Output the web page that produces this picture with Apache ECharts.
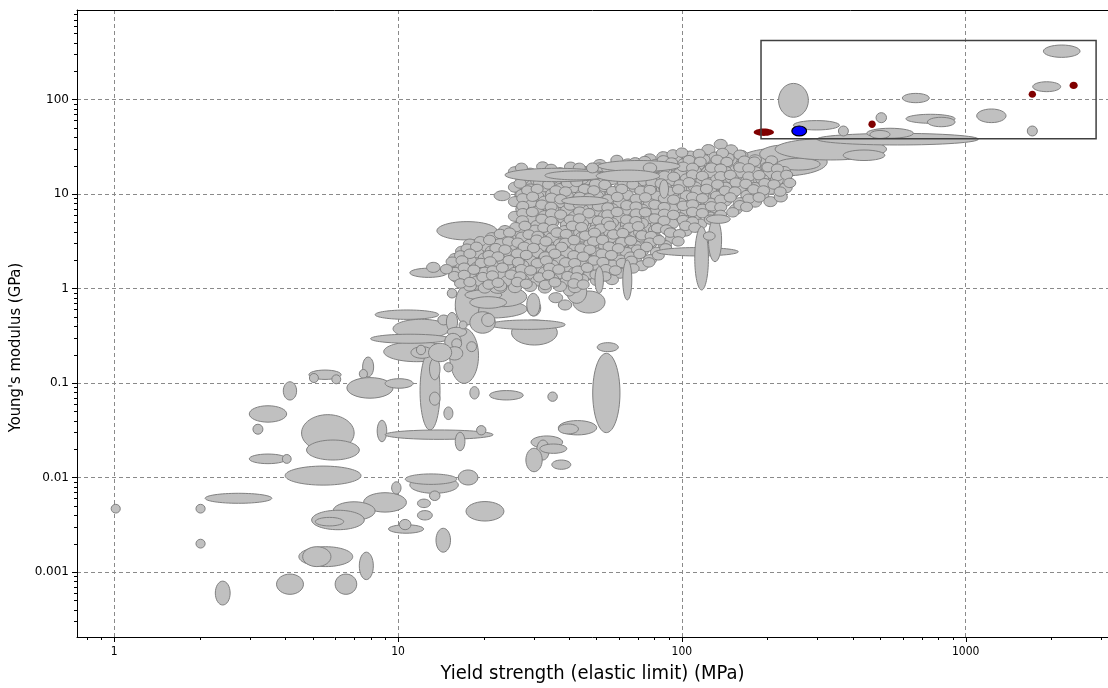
<!DOCTYPE html>
<html><head><meta charset="utf-8">
<script src="https://cdn.jsdelivr.net/npm/echarts@6/dist/echarts.min.js"></script>
<style>html,body{margin:0;padding:0;background:#fff}#c{width:1108px;height:688px}</style>
</head><body><div id="c"></div>
<script>
// ---- tick values / labels ----
const xTickValues = [1, 10, 100, 1000];
const xTickLabels = ['1', '10', '100', '1000'];
const xMinorTicks = [0.8, 0.9, 2, 3, 4, 5, 6, 7, 8, 9, 20, 30, 40, 50, 60, 70, 80, 90,
  200, 300, 400, 500, 600, 700, 800, 900, 2000, 3000];
const yTickValues = [0.001, 0.01, 0.1, 1, 10, 100];
const yTickLabels = ['0.001', '0.01', '0.1', '1', '10', '100'];
const yMinorTicks = [0.0003, 0.0004, 0.0005, 0.0006, 0.0007, 0.0008, 0.0009,
  0.002, 0.003, 0.004, 0.005, 0.006, 0.007, 0.008, 0.009,
  0.02, 0.03, 0.04, 0.05, 0.06, 0.07, 0.08, 0.09,
  0.2, 0.3, 0.4, 0.5, 0.6, 0.7, 0.8, 0.9,
  2, 3, 4, 5, 6, 7, 8, 9, 20, 30, 40, 50, 60, 70, 80, 90,
  200, 300, 400, 500, 600, 700, 800];

// ---- materials: [yield min, yield max (MPa), modulus min, modulus max (GPa)] ----
const backgroundRanges = [
  [25.8, 53.6, 5.71, 16.7], [22.9, 47.5, 1.86, 4.47], [43.8, 83.7, 2.26, 9.76],
  [74.1, 154, 6.0, 20.3], [116, 222, 10.2, 24.6], [15.9, 28, 1.09, 2.26], [34.3, 71.2, 1.23, 3.26],
  [156, 325, 15.5, 30.7], [188, 283, 21.3, 33], [216, 307, 17.9, 23.9],
  [213, 526, 22.9, 38.8], [370, 519, 22.6, 29.2], [37.2, 55.8, 15.2, 19.45]
];
const materialRanges = [
  [7.5, 8.2, 0.116, 0.188], [7.3, 7.8, 0.112, 0.139], [4.85, 6.3, 0.109, 0.137],
  [4.87, 5.24, 0.101, 0.126], [5.84, 6.28, 0.098, 0.122], [6.6, 9.6, 0.069, 0.114],
  [9.0, 11.3, 0.088, 0.111], [3.94, 4.39, 0.066, 0.103], [2.99, 4.05, 0.0385, 0.0574],
  [3.08, 3.34, 0.0287, 0.0366], [4.57, 7.0, 0.0189, 0.0462], [4.76, 7.3, 0.0153, 0.0249],
  [2.99, 4.05, 0.0140, 0.0177], [3.91, 4.20, 0.0141, 0.0175],
  [4.0, 7.4, 0.0083, 0.0132], [2.09, 3.59, 0.00533, 0.0068], [0.975, 1.05, 0.0042, 0.0052],
  [1.94, 2.09, 0.0042, 0.0052], [1.94, 2.09, 0.00179, 0.00222], [7.56, 10.7, 0.0043, 0.0069],
  [5.9, 8.3, 0.00353, 0.00553], [9.49, 10.24, 0.0067, 0.0090], [4.96, 7.6, 0.0028, 0.0045],
  [5.11, 6.43, 0.00307, 0.00378], [9.25, 12.3, 0.00257, 0.00316], [10.1, 11.1, 0.0028, 0.0036],
  [4.47, 6.92, 0.00114, 0.00185], [4.61, 5.8, 0.00114, 0.00185], [7.3, 8.18, 0.00083, 0.00162],
  [3.73, 4.64, 0.00058, 0.00095], [6.0, 7.15, 0.00058, 0.00095], [2.27, 2.56, 0.000447, 0.0008],
  [8.3, 13.9, 0.471, 0.592], [9.6, 15.2, 0.297, 0.472], [8.9, 15.2, 0.168, 0.274],
  [8.0, 15.2, 0.263, 0.328], [15.9, 28.5, 0.487, 0.756], [25.1, 36.4, 0.252, 0.464],
  [21, 38.8, 0.369, 0.464], [28.5, 31.8, 0.512, 0.756], [15.2, 19.2, 0.099, 0.379],
  [11.95, 14.05, 0.0318, 0.215], [8.44, 9.12, 0.0239, 0.0403], [9.0, 21.6, 0.0253, 0.0318],
  [12.9, 14.05, 0.108, 0.183], [12.9, 14.05, 0.0582, 0.080],
  [14.5, 15.6, 0.131, 0.164], [17.9, 19.3, 0.0677, 0.0916], [21, 27.6, 0.0661, 0.0831],
  [33.7, 36.4, 0.0639, 0.0803], [50.3, 59.7, 0.2145, 0.267], [48.5, 60.5, 0.0298, 0.206],
  [14.5, 15.6, 0.041, 0.0557], [18.9, 20.4, 0.0282, 0.0354], [15.9, 17.2, 0.0192, 0.0301],
  [36.7, 50.1, 0.0282, 0.040], [36.7, 43.2, 0.0289, 0.0368], [29.4, 38.0, 0.0203, 0.0275],
  [30.8, 34.1, 0.0153, 0.0249], [31.6, 39.3, 0.018, 0.0226], [28.2, 32.2, 0.0115, 0.0204],
  [34.8, 40.6, 0.0122, 0.0153], [11.0, 16.3, 0.0068, 0.0102], [10.6, 16.1, 0.00845, 0.0109],
  [16.3, 19.1, 0.00833, 0.012], [12.9, 14.05, 0.0057, 0.0072], [11.7, 13.0, 0.0048, 0.0059],
  [11.7, 13.2, 0.00355, 0.00446], [17.35, 23.6, 0.00346, 0.00556], [13.6, 15.3, 0.00162, 0.0029],
  [11.0, 14.9, 1.31, 1.64], [12.6, 14.05, 1.48, 1.89], [14.9, 16.1, 0.793, 0.998],
  [15.1, 22, 1.045, 1.92], [17.5, 19.2, 1.23, 1.77], [15.9, 22, 0.981, 1.25],
  [15.9, 19.3, 0.411, 1.09], [19.4, 28.4, 0.642, 1.045], [17.2, 23.2, 0.756, 0.964],
  [17.9, 24.1, 0.617, 0.819], [28.4, 31.6, 0.512, 0.887], [21.0, 24.1, 0.889, 1.135],
  [34, 38, 0.707, 0.903], [36.7, 40.9, 0.592, 0.756], [41.3, 53.6, 0.55, 0.94],
  [39.3, 46.2, 0.696, 1.23], [38.2, 42.1, 0.833, 1.116], [13.8, 15.2, 0.411, 0.524],
  [14.8, 16.2, 0.351, 0.557], [14.9, 17.45, 0.309, 0.389], [16.4, 17.5, 0.373, 0.453],
  [17.9, 22, 0.336, 0.568], [19.7, 21.9, 0.396, 0.544], [14.6, 16.7, 0.2235, 0.335],
  [15.45, 16.75, 0.231, 0.294], [17.45, 18.9, 0.2145, 0.2735], [14.8, 16.9, 0.175, 0.242],
  [11.1, 13.3, 0.1825, 0.242], [11.6, 12.5, 0.199, 0.251], [12.8, 15.45, 0.168, 0.263],
  [21.8, 24.8, 8.5, 10.8], [13.7, 22.3, 3.26, 5.1]
];
// densely packed small materials: [yield (MPa), modulus (GPa)]
const clusterPoints = [
  [124, 29.5], [137, 33.5], [149, 29.3], [131, 24.6],
  [77, 23.5], [86, 24.8], [95, 22.9], [107, 25.2], [119, 23.3], [145, 24.0], [162, 25.6], [181, 23.0],
  [51.4, 20.5], [57.7, 19.6], [64.5, 20.8], [72.3, 19.4], [81, 20.6], [90.8, 19.8], [102, 21.0],
  [114, 20.2], [128, 19.5], [143, 20.9], [160, 19.6], [180, 20.4], [200, 19.2],
  [25.8, 17.2], [29.2, 16.6], [32.9, 17.5], [37.2, 16.8], [42, 17.4], [47.5, 16.5], [53.6, 17.3],
  [60.5, 16.7], [68.4, 17.6], [77.2, 16.9], [87.2, 17.3], [98.5, 16.6], [111, 17.5], [126, 16.8],
  [142, 17.4], [160, 16.7], [181, 17.2], [204, 16.5], [229, 17.3],
  [27.4, 14.3], [30.9, 13.8], [34.9, 14.5], [39.3, 13.9], [44.5, 14.4], [50.2, 13.7], [56.7, 14.2],
  [64, 14.6], [72.3, 13.8], [81.6, 14.3], [92.3, 13.9], [104, 14.5], [118, 13.8], [133, 14.2],
  [150, 14.6], [170, 13.9], [192, 14.3], [216, 14.0],
  [25.8, 11.8], [29.2, 11.3], [32.9, 11.9], [37.2, 11.4], [42, 11.7], [47.5, 11.2], [53.6, 11.9],
  [60.5, 11.5], [68.4, 11.8], [77.2, 11.3], [87.2, 11.7], [98.5, 11.4], [111, 11.9], [126, 11.3],
  [142, 11.8], [160, 11.5], [181, 11.7], [204, 11.2], [232, 11.6],
  [27.4, 9.9], [30.9, 9.5], [34.9, 10.0], [39.3, 9.6], [44.5, 9.9], [50.2, 9.5], [56.7, 10.1],
  [64, 9.7], [72.3, 9.9], [81.6, 9.5], [92.3, 10.0], [104, 9.6], [118, 9.9], [133, 9.5],
  [150, 10.0], [170, 9.7], [192, 9.8],
  [25.8, 8.3], [29.2, 8.0], [32.9, 8.4], [37.2, 8.1], [42, 8.3], [47.5, 7.9], [53.6, 8.4],
  [60.5, 8.1], [68.4, 8.3], [77.2, 7.9], [87.2, 8.4], [98.5, 8.0], [111, 8.3], [126, 8.0],
  [142, 8.4], [160, 8.1], [181, 8.2], [205, 8.3], [223, 9.3],
  [27.4, 6.9], [30.9, 6.6], [34.9, 7.0], [39.3, 6.7], [44.5, 6.9], [50.2, 6.6], [56.7, 7.0],
  [64, 6.7], [72.3, 6.9], [81.6, 6.6], [92.3, 7.0], [104, 6.7], [118, 6.9], [133, 6.6], [155, 6.9],
  [25.8, 5.8], [29.2, 5.5], [32.9, 5.9], [37.2, 5.6], [42, 5.8], [47.5, 5.5], [53.6, 5.9],
  [60.5, 5.6], [68.4, 5.8], [77.2, 5.5], [87.2, 5.9], [98.5, 5.6], [111, 5.7], [126, 5.7], [136, 5.9],
  [27.4, 4.9], [30.9, 4.65], [34.9, 4.95], [39.3, 4.7], [44.5, 4.85], [50.2, 4.6], [56.7, 4.95],
  [64, 4.7], [72.3, 4.9], [81.6, 4.65], [92.3, 4.85], [104, 4.7], [116, 4.8],
  [23.8, 4.1], [26.9, 3.9], [30.4, 4.15], [34.3, 3.95], [38.7, 4.1], [43.8, 3.9], [49.4, 4.15],
  [55.8, 3.95], [63, 4.1], [71.2, 3.9], [80.4, 4.15], [90.8, 3.95], [103, 4.05],
  [21.4, 3.45], [24.2, 3.3], [27.4, 3.5], [30.9, 3.35], [34.9, 3.45], [39.3, 3.3], [44.5, 3.5],
  [50.2, 3.35], [56.7, 3.45], [64, 3.3], [72.3, 3.5], [81.6, 3.35], [92.3, 3.4],
  [17.9, 2.95], [20.2, 2.8], [22.9, 2.98], [25.8, 2.83], [29.2, 2.95], [32.9, 2.8], [37.2, 2.97],
  [42, 2.84], [47.5, 2.95], [53.6, 2.8], [60.5, 2.96], [68.4, 2.83], [77.2, 2.95], [87.2, 2.85],
  [16.8, 2.48], [19, 2.38], [21.4, 2.5], [24.2, 2.4], [27.4, 2.5], [30.9, 2.38], [34.9, 2.5],
  [39.3, 2.4], [44.5, 2.49], [50.2, 2.38], [56.7, 2.5], [64, 2.4], [72.3, 2.48], [81.6, 2.42],
  [15.9, 2.08], [17.9, 1.98], [20.2, 2.1], [22.9, 2.0], [25.8, 2.08], [29.2, 1.98], [32.9, 2.1],
  [37.2, 2.0], [42, 2.08], [47.5, 1.98], [53.6, 2.1], [60.5, 2.0], [68.4, 2.07], [77.2, 2.02],
  [16.8, 1.76], [19, 1.68], [21.4, 1.77], [24.2, 1.69], [27.4, 1.76], [30.9, 1.68], [34.9, 1.77],
  [39.3, 1.69], [44.5, 1.76], [50.2, 1.68], [56.7, 1.77], [64, 1.7], [72.3, 1.74],
  [15.9, 1.48], [17.9, 1.42], [20.2, 1.49], [22.9, 1.43], [25.8, 1.48], [29.2, 1.42], [32.9, 1.49],
  [37.2, 1.43], [42, 1.48], [47.5, 1.42], [53.6, 1.49], [60.5, 1.45],
  [16.8, 1.25], [19, 1.2], [21.4, 1.26], [24.2, 1.2], [27.4, 1.25], [30.9, 1.2], [34.9, 1.26],
  [39.3, 1.2], [44.5, 1.25], [50.2, 1.21], [56.7, 1.24],
  [17.9, 1.06], [20.2, 1.01], [22.9, 1.06], [25.8, 1.02], [29.2, 1.05], [32.9, 1.01], [37.2, 1.05], [42, 1.02]
];
const clusterPointsB = [
  [93, 26.2], [100, 27.4], [115, 26.5], [139, 27.1], [160, 26.0],
  [59, 22.9], [68.5, 21.6], [74, 22.3], [86, 22.7], [92, 21.5], [106, 22.8], [116, 21.9], [133, 23.0],
  [144, 21.8], [166, 22.5], [180, 22.0], [207, 22.6],
  [27.2, 18.9], [32.3, 19.5], [34.6, 18.4], [40.5, 19.4], [43.5, 18.9], [51, 19.0], [54.8, 18.5],
  [64, 19.4], [69, 18.6], [80.5, 19.1], [86.5, 18.5], [101, 19.4], [109, 18.9], [127, 19.0],
  [137, 18.5], [160, 19.1], [172, 18.7], [201, 19.2], [217, 18.5],
  [27.6, 15.6], [29.7, 16.1], [34.8, 15.2], [37.4, 15.9], [43.6, 15.5], [47, 16.1], [54.9, 15.4],
  [59.2, 15.9], [69, 15.3], [74.5, 16.1], [86.7, 15.6], [93.6, 15.2], [109, 16.0], [118, 15.5],
  [137, 15.4], [148, 15.9], [172, 15.3], [187, 15.8], [217, 15.5], [234, 15.9],
  [26.9, 12.9], [31.5, 13.3], [33.9, 12.6], [39.5, 13.0], [42.6, 13.4], [49.6, 12.8], [53.5, 12.5],
  [62.3, 13.1], [67.2, 12.6], [78.4, 13.3], [84.5, 12.9], [98.4, 12.6], [106, 13.3], [123, 12.9],
  [133.5, 12.6], [155, 13.2], [168, 12.8], [196, 13.0], [211, 12.6], [240, 13.1],
  [28.6, 10.9], [30.9, 11.3], [36, 10.9], [38.9, 10.6], [45.3, 11.3], [48.9, 10.9], [57, 10.7],
  [61.4, 11.3], [71.6, 10.8], [77.2, 11.0], [90, 10.6], [97.2, 11.2], [113, 10.9], [122, 11.3],
  [142, 10.8], [153.8, 10.6], [179, 11.2], [194, 10.9], [222, 10.6],
  [27.5, 9.0], [29.8, 9.35], [34.7, 9.1], [37.4, 8.8], [43.6, 9.3], [47, 9.0], [54.8, 8.8], [59.2, 9.3],
  [69, 8.9], [74.4, 9.2], [86.7, 9.0], [93.5, 8.7], [109, 9.3], [118, 9.0], [137, 8.7], [148, 9.2],
  [172, 8.9], [187, 9.2],
  [27.5, 7.45], [32.1, 7.7], [34.6, 7.3], [40.4, 7.55], [43.5, 7.75], [50.8, 7.4], [54.8, 7.2],
  [63.9, 7.6], [68.9, 7.35], [80.3, 7.7], [86.6, 7.25], [101, 7.5], [109, 7.75], [127, 7.4],
  [137, 7.25], [160, 7.6], [169, 7.3],
  [27.5, 6.25], [29.7, 6.45], [34.7, 6.2], [37.4, 6.05], [43.6, 6.5], [47, 6.25], [54.8, 6.05],
  [59.1, 6.45], [69, 6.2], [74.3, 6.4], [86.7, 6.15], [93.4, 6.0], [109, 6.45], [118, 6.25],
  [137, 6.0], [151, 6.4],
  [27.4, 5.25], [32.1, 5.45], [34.6, 5.15], [40.4, 5.35], [43.5, 5.5], [50.8, 5.2], [54.7, 5.05],
  [63.8, 5.35], [68.8, 5.15], [80.3, 5.5], [86.5, 5.2], [101, 5.3], [109, 5.1], [126, 5.35],
  [26, 4.45], [28, 4.6], [32.6, 4.4], [35.2, 4.25], [41.1, 4.6], [44.3, 4.45], [51.7, 4.3],
  [55.8, 4.6], [65.1, 4.4], [70.2, 4.55], [81.9, 4.35], [88.2, 4.2], [103, 4.6], [111, 4.4],
  [22.9, 3.78], [24.7, 3.9], [28.9, 3.72], [31.1, 3.6], [36.3, 3.9], [39.1, 3.76], [45.7, 3.62],
  [49.2, 3.88], [57.4, 3.73], [61.9, 3.85], [72.3, 3.65], [77.9, 3.58], [91, 3.9], [98, 3.75],
  [19.5, 3.16], [21, 3.26], [24.5, 3.13], [26.4, 3.05], [30.8, 3.28], [33.2, 3.15], [38.8, 3.04],
  [41.7, 3.25], [48.8, 3.14], [52.5, 3.27], [61.3, 3.09], [66, 3.2], [77.1, 3.05], [83.1, 3.24], [97, 3.15],
  [17.5, 2.64], [18.9, 2.76], [22.1, 2.67], [23.8, 2.58], [27.8, 2.76], [30, 2.68], [35, 2.58],
  [37.7, 2.75], [44.1, 2.65], [47.4, 2.57], [55.4, 2.77], [59.7, 2.66], [69.7, 2.58], [75.1, 2.75], [87.7, 2.66],
  [16.6, 2.24], [17.9, 2.33], [20.9, 2.25], [22.5, 2.18], [26.3, 2.34], [28.3, 2.26], [33, 2.18],
  [35.7, 2.33], [41.6, 2.24], [44.9, 2.17], [52.3, 2.33], [56.4, 2.25], [65.9, 2.17], [71, 2.32], [82.6, 2.24],
  [15.5, 1.92], [16.8, 1.98], [19.6, 1.86], [21.1, 1.93], [24.6, 1.99], [26.5, 1.9], [30.9, 1.85],
  [33.3, 1.97], [38.9, 1.89], [41.9, 1.85], [49, 1.98], [52.7, 1.9], [61.6, 1.86], [66.3, 1.96], [76.5, 1.89],
  [14.8, 1.6], [17.1, 1.66], [18.5, 1.58], [21.6, 1.55], [23.3, 1.66], [27.2, 1.6], [29.3, 1.55],
  [34.2, 1.65], [36.8, 1.59], [43, 1.54], [46.4, 1.66], [54, 1.6], [58.3, 1.55], [67.3, 1.63],
  [15.8, 1.35], [17.1, 1.39], [19.9, 1.32], [21.5, 1.37], [25, 1.4], [26.9, 1.34], [31.5, 1.31],
  [33.9, 1.39], [39.6, 1.35], [42.6, 1.31], [49.8, 1.4], [53.6, 1.34],
  [16.6, 1.13], [17.9, 1.17], [20.9, 1.1], [22.5, 1.15], [26.3, 1.17], [28.3, 1.12], [33, 1.09],
  [35.7, 1.16], [41.6, 1.13], [44.9, 1.1]
];
const overlayRanges = [
  [23.8, 55.1, 13.5, 18.7], [32.9, 55.1, 14.1, 17.5], [50.6, 98.5, 17.3, 22.6],
  [46.1, 50.8, 16.7, 21.3], [73.1, 81.5, 16.7, 21.3], [49.9, 83.5, 13.5, 17.9],
  [37.7, 55, 7.65, 9.39], [83.4, 89.7, 9.03, 14.1], [81.5, 158, 2.21, 2.71],
  [111, 124, 0.964, 4.52], [124, 138, 1.92, 5.53], [122, 148, 4.89, 6.0], [119, 131, 3.24, 3.98],
  [61.9, 66.6, 0.756, 2.0], [49.4, 52.9, 0.889, 1.70],
  [299, 1108, 33, 43.8], [448, 654, 38.9, 49.6], [460, 541, 38.7, 47],
  [247, 359, 47.6, 59.8], [219, 279, 64.8, 148], [356, 386, 41.1, 52.4], [483, 526, 56.8, 72.5],
  [598, 744, 92.5, 116], [616, 917, 56, 69.7], [733, 917, 51.5, 64.8], [1093, 1387, 56.9, 79.3],
  [1648, 1788, 41.1, 52.4], [1722, 2161, 121, 154], [1878, 2528, 279, 377]
];
const redRanges = [[179, 211, 41.1, 49.2], [454, 482, 49.9, 59.8], [1666, 1769, 104, 124], [2322, 2481, 129, 154]];
const blueRanges = [[244, 275, 41.1, 52.4]];
const selectionBox = [[190, 2880, 38.5, 420]];

// ---- rendering ----
const X_MIN = 0.739, X_MAX = 3172, Y_MIN = 0.000205, Y_MAX = 885;
const FILL = '#c0c0c0', EDGE = '#808080';

function rangeEllipse(fill, stroke, lw) {
  return function (params, api) {
    const a = api.coord([api.value(0), api.value(2)]);
    const b = api.coord([api.value(1), api.value(3)]);
    return {
      type: 'ellipse',
      shape: { cx: (a[0] + b[0]) / 2, cy: (a[1] + b[1]) / 2, rx: Math.abs(b[0] - a[0]) / 2, ry: Math.abs(b[1] - a[1]) / 2 },
      style: { fill: fill, stroke: stroke, lineWidth: lw }
    };
  };
}
function rangeSeries(data, fill, stroke, lw) {
  return { type: 'custom', coordinateSystem: 'cartesian2d', data: data, encode: { x: [0, 1], y: [2, 3] },
    renderItem: rangeEllipse(fill, stroke, lw), silent: true, animation: false };
}
function pointSeries(data, rx, ry) {
  return { type: 'custom', coordinateSystem: 'cartesian2d', data: data, silent: true, animation: false,
    renderItem: function (params, api) {
      const p = api.coord([api.value(0), api.value(1)]);
      return { type: 'ellipse', shape: { cx: p[0], cy: p[1], rx: rx, ry: ry }, style: { fill: FILL, stroke: EDGE, lineWidth: 1 } };
    } };
}
function labelFrom(values, labels) {
  return function (v) {
    for (let i = 0; i < values.length; i++) {
      if (Math.abs(Math.log10(v) - Math.log10(values[i])) < 1e-6) return labels[i];
    }
    return '';
  };
}
function xTickSeries(data, len) {
  return { type: 'custom', coordinateSystem: 'cartesian2d', data: data.map(v => [v]), silent: true, animation: false, clip: false,
    renderItem: function (params, api) {
      const p = api.coord([api.value(0), 1]);
      const x = Math.round(p[0]) + 0.5;
      const y0 = params.coordSys.y + params.coordSys.height;
      return { type: 'line', shape: { x1: x, y1: y0, x2: x, y2: y0 + len }, style: { stroke: '#000', lineWidth: 1 } };
    } };
}
function yTickSeries(data, len) {
  return { type: 'custom', coordinateSystem: 'cartesian2d', data: data.map(v => [1, v]), silent: true, animation: false, clip: false,
    renderItem: function (params, api) {
      const p = api.coord([1, api.value(1)]);
      const y = Math.round(p[1]) + 0.5;
      const x0 = params.coordSys.x;
      return { type: 'line', shape: { x1: x0 - len, y1: y, x2: x0, y2: y }, style: { stroke: '#000', lineWidth: 1 } };
    } };
}

const chart = echarts.init(document.getElementById('c'), null, { renderer: 'canvas' });
const split = { show: true, showMinLine: false, showMaxLine: false, lineStyle: { color: '#8a8a8a', type: [4, 3], width: 1 } };
chart.setOption({
  animation: false,
  backgroundColor: '#ffffff',
  grid: { left: 77, right: 0, top: 10, bottom: 51, outerBoundsMode: 'none' },
  xAxis: [
    { type: 'log', logBase: 10, min: X_MIN, max: X_MAX, position: 'bottom',
      name: 'Yield strength (elastic limit) (MPa)', nameLocation: 'middle', nameGap: 27,
      nameTextStyle: { fontFamily: 'DejaVu Sans Condensed, DejaVu Sans', fontSize: 20, color: '#000' },
      axisLine: { show: true, lineStyle: { color: '#000', width: 1 } },
      axisTick: { show: false },
      axisLabel: { show: true, color: '#000', fontFamily: 'DejaVu Sans Condensed, DejaVu Sans', fontSize: 12, margin: 9,
        showMinLabel: false, showMaxLabel: false, formatter: labelFrom(xTickValues, xTickLabels) },
      splitLine: split },
    { type: 'log', logBase: 10, min: X_MIN, max: X_MAX, position: 'top',
      axisLine: { show: true, lineStyle: { color: '#000', width: 1 } },
      axisTick: { show: false }, axisLabel: { show: false }, splitLine: { show: false } }
  ],
  yAxis: {
    type: 'log', logBase: 10, min: Y_MIN, max: Y_MAX, position: 'left',
    name: "Young's modulus (GPa)", nameLocation: 'middle', nameGap: 46,
    nameTextStyle: { fontFamily: 'DejaVu Sans Condensed, DejaVu Sans', fontSize: 16.5, color: '#000', padding: [0, 48, 0, 0] },
    axisLine: { show: true, lineStyle: { color: '#000', width: 1 } },
    axisTick: { show: false },
    axisLabel: { show: true, color: '#000', fontFamily: 'DejaVu Sans', fontSize: 12, margin: 8,
      showMinLabel: false, showMaxLabel: false, formatter: labelFrom(yTickValues, yTickLabels) },
    splitLine: split
  },
  series: [
    rangeSeries(backgroundRanges, FILL, EDGE, 1),
    rangeSeries(materialRanges, FILL, EDGE, 1),
    pointSeries(clusterPoints, 6.5, 5),
    pointSeries(clusterPointsB, 6, 4.7),
    rangeSeries(overlayRanges, FILL, EDGE, 1),
    rangeSeries(redRanges, '#800000', null, 0),
    rangeSeries(blueRanges, '#0000ff', '#000000', 1.2),
    { type: 'custom', coordinateSystem: 'cartesian2d', data: selectionBox, encode: { x: [0, 1], y: [2, 3] }, silent: true, animation: false,
      renderItem: function (params, api) {
        const a = api.coord([api.value(0), api.value(2)]);
        const b = api.coord([api.value(1), api.value(3)]);
        return { type: 'rect', shape: { x: Math.min(a[0], b[0]), y: Math.min(a[1], b[1]), width: Math.abs(b[0] - a[0]), height: Math.abs(b[1] - a[1]) },
          style: { fill: null, stroke: '#404040', lineWidth: 1.5 } };
      } },
    xTickSeries(xTickValues, 5), xTickSeries(xMinorTicks, 3),
    yTickSeries(yTickValues, 5), yTickSeries(yMinorTicks, 3)
  ]
});
</script></body></html>
